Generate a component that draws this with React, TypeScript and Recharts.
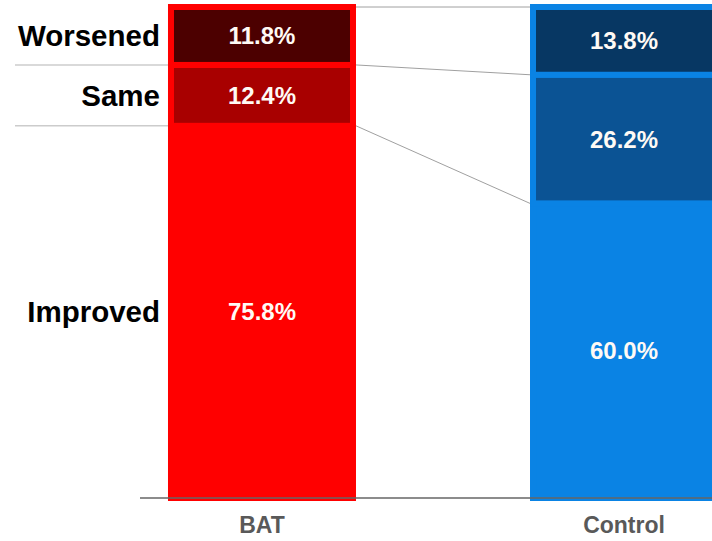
import { BarChart, Bar, XAxis, YAxis, LabelList } from 'recharts';

const categories = ['BAT', 'Control'];
const improved = [75.8, 60.0];
const same = [12.4, 26.2];
const worsened = [11.8, 13.8];

const seriesKeys = ['improved', 'same', 'worsened'];
const seriesNames = ['Improved', 'Same', 'Worsened'];

const palette: Record<string, string[]> = {
  improved: ['#ff0000', '#0a83e4'],
  same: ['#a80000', '#0b5394'],
  worsened: ['#4c0000', '#073763'],
};

const data = categories.map((name, i) => ({
  idx: i,
  name,
  improved: improved[i],
  same: same[i],
  worsened: worsened[i],
}));

const W = 712;
const H = 541;
const MARGIN = { top: 7, right: 0, bottom: 0, left: 140 };
const X_DOMAIN: [number, number] = [-0.337, 1.243];
// pixel distance between the two category centres on the numeric x axis
const STEP = (W - MARGIN.left - MARGIN.right) / (X_DOMAIN[1] - X_DOMAIN[0]);
const BAR = 182;
const EDGE = 3; // half the outline width

const FONT = '"Liberation Sans", Arial, sans-serif';

// cumulative value at the top of series k for category i
const topOf = (k: number, i: number) =>
  seriesKeys.slice(0, k + 1).reduce((s, key) => s + (data[i] as any)[key], 0);

const makeShape = (k: number) => (props: any) => {
  const { x, y, width, height } = props;
  const i = props.payload?.idx ?? props.index;
  const key = seriesKeys[k];
  const value = (data[i] as any)[key];
  const ppu = height / value;
  return (
    <g>
      <rect
        x={x}
        y={y}
        width={width}
        height={height}
        fill={palette[key][i]}
        stroke={palette.improved[i]}
        strokeWidth={EDGE * 2}
      />
      {i === 0 && (
        <>
          <line
            x1={x + width + EDGE}
            y1={y}
            x2={x + STEP - EDGE}
            y2={y + (topOf(k, 0) - topOf(k, 1)) * ppu}
            stroke="#a0a0a0"
            strokeWidth={1}
          />
          {k < seriesKeys.length - 1 && (
            <line x1={15} y1={y} x2={x - EDGE} y2={y} stroke="#cccccc" strokeWidth={1.5} />
          )}
          <text
            x={x - 11}
            y={y + height / 2}
            textAnchor="end"
            dominantBaseline="central"
            fontSize={29.5}
            fontWeight="bold"
            fill="#000"
            fontFamily={FONT}
          >
            {seriesNames[k]}
          </text>
        </>
      )}
    </g>
  );
};

export default function App() {
  return (
    <div style={{ position: 'absolute', left: 0, top: 0, width: W, height: H, overflow: 'hidden', background: '#fff', fontFamily: FONT }}>
      <BarChart width={W} height={H} data={data} margin={MARGIN}>
        <XAxis
          dataKey="idx"
          type="number"
          domain={X_DOMAIN}
          ticks={[0, 1]}
          interval={0}
          tickFormatter={(v: number) => categories[v]}
          height={43}
          tickLine={false}
          tickSize={0}
          tickMargin={19}
          axisLine={{ stroke: '#666', strokeWidth: 1.5 }}
          tick={{ fill: '#595959', fontSize: 23, fontWeight: 'bold', fontFamily: FONT }}
        />
        <YAxis hide domain={[0, 100]} />
        {seriesKeys.map((key, k) => (
          <Bar
            key={key}
            dataKey={key}
            stackId="a"
            barSize={BAR}
            fill={palette[key][0]}
            shape={makeShape(k)}
            isAnimationActive={false}
          >
            <LabelList
              dataKey={key}
              position="center"
              formatter={(v: any) => `${Number(v).toFixed(1)}%`}
              fill="#fffaf5"
              fontSize={24}
              fontWeight="bold"
              fontFamily={FONT}
            />
          </Bar>
        ))}
      </BarChart>
    </div>
  );
}
